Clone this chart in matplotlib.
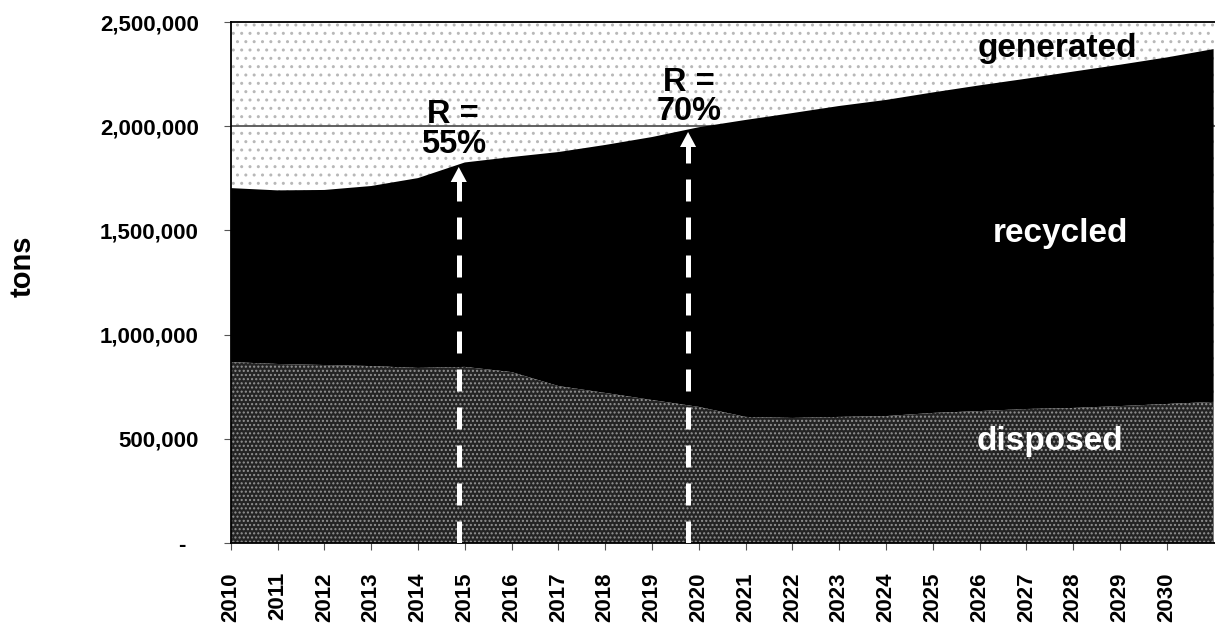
import numpy as np
import matplotlib.pyplot as plt

plt.rcParams['font.family'] = ['Liberation Sans', 'DejaVu Sans']
plt.rcParams['font.weight'] = 'bold'
plt.rcParams['hatch.linewidth'] = 1.0

# values (tons)
years = np.arange(2010, 2032)
generated = [1703000, 1692000, 1694000, 1713000, 1751000, 1826000, 1852000,
             1876000, 1910000, 1948000, 1995000, 2030000, 2063000, 2097000,
             2126000, 2162000, 2196000, 2228000, 2262000, 2295000, 2330000,
             2370000]
disposed = [868000, 859000, 854000, 849000, 840000, 845000, 820000, 753000,
            720000, 686000, 653000, 605000, 600000, 605000, 609000, 624000,
            633000, 643000, 648000, 657000, 667000, 677000]

year_ticks = list(range(2010, 2031))
y_ticks = [0, 500000, 1000000, 1500000, 2000000, 2500000]
y_labels = ['-  ', '500,000', '1,000,000', '1,500,000', '2,000,000', '2,500,000']

target_line = 2000000
arrow_x = [2014.87, 2019.77]
arrow_text = ['R =\n55%', 'R =\n70%']
arrow_text_pos = [(2014.75, 1985000), (2019.79, 2140000)]

fig = plt.figure(figsize=(12.15, 6.25), dpi=100)
ax = fig.add_axes([0.190, 0.1312, 0.810, 0.8336])
xmax = 2031.03

# light stippled background ("generated")
ax.fill_between([2010, xmax], 0, 2500000, facecolor='white', edgecolor='#b8b8b8',
                hatch='..', lw=0, zorder=0)
ax.axhline(target_line, color='#555555', lw=1.3, zorder=1)

# recycled (black) between disposed and generated
ax.fill_between(years, disposed, generated, facecolor='black', lw=0, zorder=2)
# disposed, dark stipple
ax.fill_between(years, 0, disposed, facecolor='#242424', edgecolor='#939393',
                hatch='....', lw=0, zorder=2)

# dashed white arrows up to the generated line
head = 72000
for xa in arrow_x:
    tip = np.interp(xa, years, generated) - 12000
    ax.plot([xa, xa], [0, tip - head + 5000], color='white', lw=3.6,
            ls=(0, (4.4, 3.2)), dash_capstyle='butt', zorder=4)
    ax.annotate('', xy=(xa, tip), xytext=(xa, tip - head),
                arrowprops=dict(arrowstyle='-|>,head_length=1.08,head_width=0.58',
                                mutation_scale=10, color='white', lw=0,
                                shrinkA=0, shrinkB=0), zorder=5)

for t, (tx, ty) in zip(arrow_text, arrow_text_pos):
    ax.text(tx, ty, t, ha='center', va='center', fontsize=23.5, linespacing=0.95,
            color='black', zorder=6)

ax.text(2027.67, 2332000, 'generated', ha='center', va='baseline', fontsize=24,
        color='black', zorder=6)
ax.text(2027.73, 1444000, 'recycled', ha='center', va='baseline', fontsize=24,
        color='white', zorder=6)
ax.text(2027.5, 446000, 'disposed', ha='center', va='baseline', fontsize=24,
        color='white', zorder=6)

ax.set_xlim(2010, xmax)
ax.set_ylim(0, 2500000)
ax.set_xticks(year_ticks)
ax.set_xticklabels([str(y) for y in year_ticks], rotation=90, fontsize=16)
ax.set_yticks(y_ticks)
ax.set_yticklabels(y_labels, fontsize=16)
ax.tick_params(axis='y', length=5, pad=18, color='#555555')
ax.tick_params(axis='x', length=5, pad=16, color='#555555')

ax.spines['right'].set_visible(False)
for s in ['left', 'bottom', 'top']:
    ax.spines[s].set_color('black')
    ax.spines[s].set_linewidth(1.3)

ax.set_ylabel('tons', fontsize=21, fontweight='bold')
ax.yaxis.set_label_coords(-0.197, 0.532)

fig.savefig('out.png', dpi=100)
